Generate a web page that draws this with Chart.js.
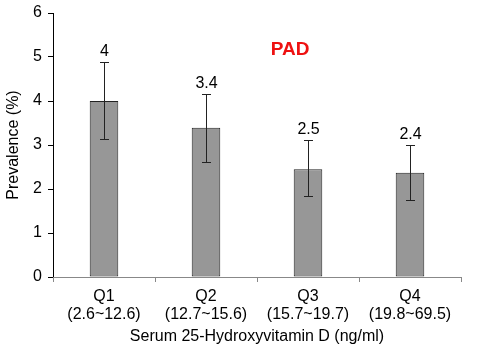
<!DOCTYPE html>
<html><head><meta charset="utf-8">
<script src="https://cdn.jsdelivr.net/npm/chart.js@4"></script>
<style>html,body{margin:0;padding:0;background:#fff}#wrap{width:480px;height:351px}</style>
</head><body><div id="wrap"><canvas id="c" width="480" height="351"></canvas></div>
<script>
const categories = [["Q1","(2.6~12.6)"],["Q2","(12.7~15.6)"],["Q3","(15.7~19.7)"],["Q4","(19.8~69.5)"]];
const prevalence = [4.0, 3.39, 2.45, 2.37];
const errLow = [3.14, 2.61, 1.85, 1.76];
const errHigh = [4.89, 4.16, 3.12, 3.0];
const valueLabels = ["4","3.4","2.5","2.4"];
const yTicks = [0,1,2,3,4,5,6];

const FONT = "'Liberation Sans', Arial, sans-serif";

const errPlugin = {
  id: 'errbars',
  afterDatasetsDraw(chart) {
    const ctx = chart.ctx, x = chart.scales.x, y = chart.scales.y;
    ctx.save();
    ctx.strokeStyle = '#222';
    ctx.lineWidth = 1;
    prevalence.forEach((v, i) => {
      const cx = Math.round(x.getPixelForValue(i)) + 0.5;
      const yh = Math.round(y.getPixelForValue(errHigh[i])) + 0.5;
      const yl = Math.round(y.getPixelForValue(errLow[i])) + 0.5;
      ctx.beginPath();
      ctx.moveTo(cx, yh); ctx.lineTo(cx, yl);
      ctx.moveTo(cx - 4.5, yh); ctx.lineTo(cx + 4.5, yh);
      ctx.moveTo(cx - 4.5, yl); ctx.lineTo(cx + 4.5, yl);
      ctx.stroke();
      ctx.fillStyle = '#000';
      ctx.font = '16px ' + FONT;
      ctx.textAlign = 'center';
      ctx.textBaseline = 'bottom';
      ctx.fillText(valueLabels[i], cx, yh - 3);
    });
    ctx.font = 'bold 19px ' + FONT;
    ctx.fillStyle = '#ee1111';
    ctx.textAlign = 'center';
    ctx.textBaseline = 'middle';
    ctx.fillText('PAD', 290, 50);
    ctx.restore();
  }
};

new Chart(document.getElementById('c'), {
  type: 'bar',
  data: {
    labels: categories,
    datasets: [{
      data: prevalence,
      backgroundColor: '#979797',
      borderColor: '#222',
      borderWidth: 1,
      borderSkipped: false,
      barPercentage: 0.56,
      categoryPercentage: 0.5
    }]
  },
  options: {
    responsive: false,
    animation: false,
    layout: { padding: { top: 13, right: 19, left: 0, bottom: 0 } },
    plugins: { legend: { display: false }, tooltip: { enabled: false } },
    scales: {
      y: {
        min: 0, max: 6,
        afterBuildTicks(s) { s.ticks = yTicks.map(v => ({ value: v })); },
        afterFit(s) { s.width = 53; s.paddingTop = 0; s.paddingBottom = 0; },
        border: { color: '#000', width: 1 },
        grid: { display: true, drawOnChartArea: false, drawTicks: true, tickLength: 5, color: '#000' },
        ticks: { color: '#000', font: { size: 16, family: FONT }, padding: 6 },
        title: { display: true, text: 'Prevalence (%)', color: '#000', font: { size: 16, family: FONT }, padding: { top: 4, bottom: 0 } }
      },
      x: {
        afterFit(s) { s.height = 74; s.paddingLeft = 0; s.paddingRight = 0; },
        border: { color: '#888', width: 1 },
        grid: { display: true, offset: true, drawOnChartArea: false, drawTicks: true, tickLength: 5, color: '#888' },
        ticks: { color: '#000', font: { size: 16, family: FONT, lineHeight: 1.15 }, padding: 5, maxRotation: 0 },
        title: { display: true, text: 'Serum 25-Hydroxyvitamin D (ng/ml)', color: '#000', font: { size: 16, family: FONT }, padding: { top: 2, bottom: 5 } }
      }
    }
  },
  plugins: [errPlugin]
});
</script>
</body></html>
